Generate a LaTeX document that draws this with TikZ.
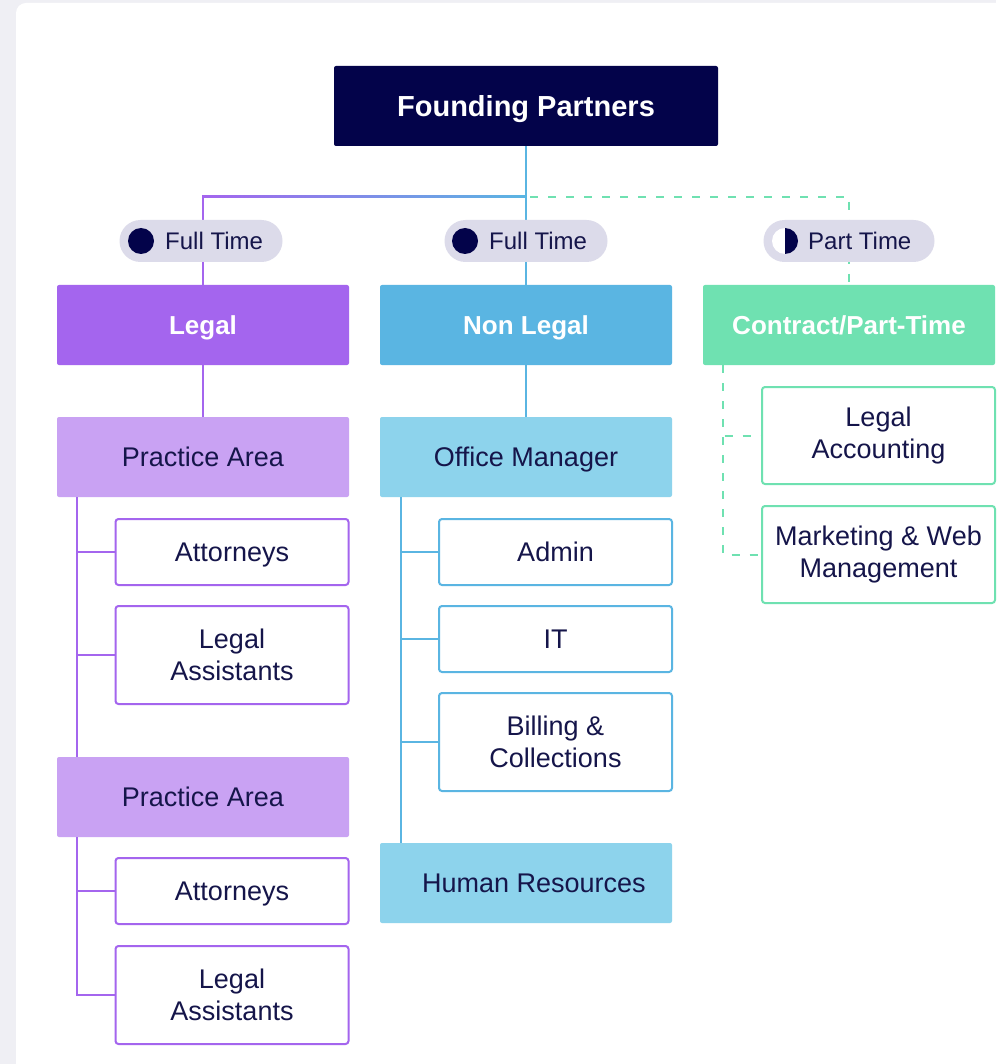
\documentclass[tikz,border=0pt]{standalone}
\usepackage{fontspec}
\setmainfont{Liberation Sans}
\usetikzlibrary{positioning,calc}

\definecolor{navy}{HTML}{03034A}
\definecolor{ink}{HTML}{15154A}
\definecolor{purp}{HTML}{A465EE}
\definecolor{lpurp}{HTML}{C9A2F3}
\definecolor{sky}{HTML}{5AB5E2}
\definecolor{lsky}{HTML}{8DD3EC}
\definecolor{mint}{HTML}{6FE1B1}
\definecolor{pillgray}{HTML}{DCDBEA}
\definecolor{bgcol}{HTML}{EFEFF4}

\begin{document}
\begin{tikzpicture}[x=1pt,y=-1pt,font=\fontsize{27}{32}\selectfont]
\tikzset{
  oneline/.style={text height=19pt,text depth=0pt},
  head/.style={fill=navy,text=white,font=\fontsize{29}{32}\selectfont\bfseries,minimum width=384pt,minimum height=80pt,rounded corners=2pt,inner sep=0pt,text height=21pt,text depth=0pt},
  dept/.style={text=white,font=\fontsize{26}{32}\selectfont\bfseries,minimum width=292pt,minimum height=80pt,rounded corners=2pt,inner sep=0pt,oneline},
  unit/.style={text=ink,minimum width=292pt,minimum height=80pt,rounded corners=2pt,inner sep=0pt,oneline},
  leaf/.style={draw,line width=2pt,fill=white,text=ink,align=center,minimum width=233pt,rounded corners=3pt,inner sep=0pt},
  pill/.style={fill=pillgray,rounded corners=21pt,minimum width=163pt,minimum height=42pt,inner sep=0pt},
  pilltxt/.style={text=ink,font=\fontsize{24}{28}\selectfont,anchor=west,inner sep=0pt},
  lnp/.style={draw=purp,line width=2pt},
  lnb/.style={draw=sky,line width=2pt},
  lng/.style={draw=mint,line width=2pt,dash pattern=on 8pt off 10pt}
}
\useasboundingbox (0,0) rectangle (996,1064);
\clip (0,0) rectangle (996,1064);
\fill[bgcol] (0,0) rectangle (996,1064);
\fill[white,rounded corners=10pt] (16,3) rectangle (1030,1100);

% top and departments
\node[head] (fp) at (526,106) {Founding Partners};
\node[dept,fill=purp] (legal) at (203,325) {Legal};
\node[dept,fill=sky] (nonlegal) at (526,325) {Non Legal};
\node[dept,fill=mint] (contract) at (849,325) {Contract/Part-Time};

\coordinate (jn) at (fp.south |- 0,197);
\draw[lnb] (fp.south) -- (nonlegal.north);
\draw[lnp] (legal.north) -- (legal.north |- jn);
\shade[left color=purp,right color=sky] ($(legal.north |- jn)+(-1,-1)$) rectangle ($(jn)+(0,1)$);
\draw[lng] ($(jn)+(4,0)$) -| (contract.north);

% employment tags
\node[pill] (pft1) at (201,241) {};
\fill[navy] (141,241) circle (13);
\node[pilltxt] (tft1) at (165,241) {Full Time};
\node[pill] (pft2) at (526,241) {};
\fill[navy] (465,241) circle (13);
\node[pilltxt] (tft2) at (489,241) {Full Time};
\node[pill,minimum width=171pt] (ppt) at (849,241) {};
\fill[white] (785,241) circle (13);
\fill[navy] (785,228) arc[start angle=-90,end angle=90,radius=13] -- cycle;
\node[pilltxt] (tpt) at (808,241) {Part Time};

% legal
\node[unit,fill=lpurp] (pa1) at (203,457) {Practice Area};
\node[leaf,draw=purp,minimum height=66pt,oneline] (att1) at (232,552) {Attorneys};
\node[leaf,draw=purp,minimum height=98pt] (las1) at (232,655) {Legal\\Assistants};
\node[unit,fill=lpurp] (pa2) at (203,797) {Practice Area};
\node[leaf,draw=purp,minimum height=66pt,oneline] (att2) at (232,891) {Attorneys};
\node[leaf,draw=purp,minimum height=98pt] (las2) at (232,995) {Legal\\Assistants};

\draw[lnp] (legal.south) -- (pa1.north);
\coordinate (sp1) at ($(pa1.south west)+(20,0)$);
\draw[lnp] (sp1) -- (sp1 |- pa2.north);
\draw[lnp] (sp1) |- (att1.west);
\draw[lnp] (sp1) |- (las1.west);
\coordinate (sp2) at ($(pa2.south west)+(20,0)$);
\draw[lnp] (sp2) |- (att2.west);
\draw[lnp] (sp2) |- (las2.west);

% non legal
\node[unit,fill=lsky] (om) at (526,457) {Office Manager};
\node[leaf,draw=sky,minimum height=66pt,oneline] (admin) at (555.5,552) {Admin};
\node[leaf,draw=sky,minimum height=66pt,oneline] (it) at (555.5,639) {IT};
\node[leaf,draw=sky,minimum height=98pt] (bill) at (555.5,742) {Billing \&\\Collections};
\node[unit,fill=lsky] (hr) at (526,883) {\hspace*{16pt}Human Resources};

\draw[lnb] (nonlegal.south) -- (om.north);
\coordinate (sp3) at ($(om.south west)+(21,0)$);
\draw[lnb] (sp3) -- (sp3 |- hr.north);
\draw[lnb] (sp3) |- (admin.west);
\draw[lnb] (sp3) |- (it.west);
\draw[lnb] (sp3) |- (bill.west);

% contract
\node[leaf,draw=mint,minimum height=97pt] (lacc) at (878.5,435.5) {Legal\\Accounting};
\node[leaf,draw=mint,minimum height=97pt] (mkt) at (878.5,554.5) {Marketing \& Web\\Management};
\coordinate (sp4) at ($(contract.south west)+(20,0)$);
\draw[lng] (sp4) |- (lacc.west);
\draw[lng] (sp4) |- (mkt.west);
\end{tikzpicture}
\end{document}
